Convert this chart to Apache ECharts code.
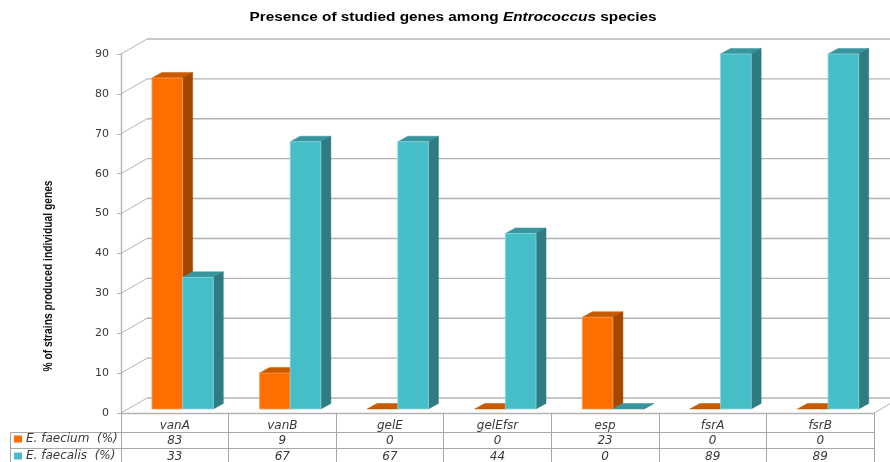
<!DOCTYPE html>
<html>
<head>
<meta charset="utf-8">
<title>Presence of studied genes among Entrococcus species</title>
<script src="https://cdn.jsdelivr.net/npm/echarts@6/dist/echarts.min.js"></script>
<style>html,body{margin:0;padding:0;background:#fff}#chart{width:890px;height:462px}</style>
</head>
<body>
<div id="chart"></div>
<script>
// Gene presence per species (% of strains)
const genes = ['vanA', 'vanB', 'gelE', 'gelEfsr', 'esp', 'fsrA', 'fsrB'];
const faecium = [83, 9, 0, 0, 23, 0, 0];
const faecalis = [33, 67, 67, 44, 0, 89, 89];
const yTicks = [0, 10, 20, 30, 40, 50, 60, 70, 80, 90];
const faeciumName = 'E. faecium  (%)';
const faecalisName = 'E. faecalis  (%)';
const yAxisTitle = '% of strains produced individual genes';

const palette = {
  orange: { front: '#ff6f00', edge: '#ff9a50', top: '#c85a00', side: '#a34800' },
  teal: { front: '#45bec8', edge: '#86d8de', top: '#38959d', side: '#2e7b81' }
};
const gridColor = '#b4b4b4';
const tableColor = '#a8a8a8';
const textColor = '#3a3a3a';

// Depth of the back wall and of the bars, in pixels
const wallDx = 26, wallDy = 15;
const barDx = 10, barDy = 5.5, barLift = 4;
const wideFont = '"DejaVu Sans", sans-serif';
const headFont = '"Liberation Sans", Arial, sans-serif';

// Box drawn in pseudo-3D: top and side faces behind the front face
function renderBar(colors, startFraction) {
  return function (params, api) {
    const idx = api.value(0);
    const center = api.coord([idx, 0])[0];
    const band = api.size([1, 0])[0];
    const base = api.coord([idx, 0])[1] - barLift;
    const top = api.coord([idx, api.value(1)])[1] - barLift;
    const w = band * 0.285;
    const l = center + band * startFraction;
    const r = l + w;
    const poly = (points, fill) => ({
      type: 'polygon',
      shape: { points },
      style: { fill, stroke: fill, lineWidth: 0.5 }
    });
    return {
      type: 'group',
      children: [
        poly([[l, top], [r, top], [r + barDx, top - barDy], [l + barDx, top - barDy]], colors.top),
        poly([[r, top], [r + barDx, top - barDy], [r + barDx, base - barDy], [r, base]], colors.side),
        {
          type: 'rect',
          shape: { x: l, y: top, width: w, height: base - top },
          style: { fill: colors.front, stroke: api.value(1) > 0 ? colors.edge : 'none', lineWidth: 0.8 }
        }
      ]
    };
  };
}

// Back wall gridlines and the slanted floor/side rules
function renderWall(params, api) {
  const cs = params.coordSys;
  const val = api.value(1);
  const y = api.coord([0, val])[1];
  const x0 = cs.x, x1 = cs.x + cs.width;
  const line = (a, b, c, d, width) => ({
    type: 'line',
    shape: { x1: a, y1: b, x2: c, y2: d },
    style: { stroke: gridColor, lineWidth: width }
  });
  const children = [
    line(x0, y, x0 + wallDx, y - wallDy, 1),
    line(x0 + wallDx, y - wallDy, x1 + wallDx, y - wallDy, 1.4)
  ];
  if (val === 0) {
    children.push(line(x1, y, x1 + wallDx, y - wallDy, 1));
  }
  return { type: 'group', children };
}

// Data table under the plot: one column of values per gene
function renderTableColumn(params, api) {
  const cs = params.coordSys;
  const x = api.coord([api.value(0), 0])[0];
  const bottom = cs.y + cs.height;
  const cell = (dy, value) => ({
    type: 'text',
    style: {
      x, y: bottom + dy, text: String(value), align: 'center', verticalAlign: 'middle',
      font: 'italic 12px ' + wideFont, fill: textColor
    }
  });
  return { type: 'group', children: [cell(28, api.value(1)), cell(44, api.value(2))] };
}

// Horizontal table rules and the left edge of the legend cells
function renderTableRules(params) {
  const cs = params.coordSys;
  const bottom = cs.y + cs.height;
  const x1 = cs.x + cs.width + 1;
  const rule = (a, b, c, d) => ({
    type: 'line',
    shape: { x1: a, y1: b, x2: c, y2: d },
    style: { stroke: tableColor, lineWidth: 1 }
  });
  return {
    type: 'group',
    children: [
      rule(10.5, bottom + 19.5, x1, bottom + 19.5),
      rule(10.5, bottom + 35.5, x1, bottom + 35.5),
      rule(10.5, bottom + 19.5, 10.5, bottom + 49)
    ]
  };
}

const chart = echarts.init(document.getElementById('chart'), null, { renderer: 'canvas' });
chart.setOption({
  animation: false,
  backgroundColor: '#fff',
  graphic: [
    {
      // Chart heading, set wide
      type: 'text',
      x: 453,
      y: 18,
      scaleX: 1.28,
      style: {
        text: '{a|Presence of studied genes among }{b|Entrococcus}{a| species}',
        align: 'center',
        verticalAlign: 'middle',
        rich: {
          a: { fontFamily: headFont, fontWeight: 'bold', fontSize: 12, fill: '#000' },
          b: { fontFamily: headFont, fontWeight: 'bold', fontStyle: 'italic', fontSize: 12, fill: '#000' }
        }
      }
    },
    {
      // Value axis title, set condensed along its length
      type: 'text',
      x: 48,
      y: 276,
      rotation: Math.PI / 2,
      scaleX: 0.79,
      style: {
        text: yAxisTitle,
        align: 'center',
        verticalAlign: 'middle',
        font: 'bold 13px ' + headFont,
        fill: '#111'
      }
    }
  ],
  legend: {
    left: 14,
    top: 432,
    height: 60,
    orient: 'vertical',
    itemWidth: 8,
    itemHeight: 7,
    itemGap: 3,
    icon: 'rect',
    selectedMode: false,
    padding: 0,
    data: [faeciumName, faecalisName],
    textStyle: { fontFamily: wideFont, fontStyle: 'italic', fontSize: 12, color: textColor, padding: [0, 0, 0, -1], lineHeight: 14 }
  },
  grid: { left: 121, right: 16, top: 54, bottom: 49 },
  xAxis: {
    type: 'category',
    data: genes,
    axisLine: { show: true, lineStyle: { color: gridColor, width: 1.4 } },
    axisTick: { show: true, length: 49, lineStyle: { color: tableColor, width: 1 } },
    axisLabel: {
      margin: 7,
      fontFamily: wideFont,
      fontStyle: 'italic',
      fontSize: 12,
      color: textColor
    }
  },
  yAxis: {
    type: 'value',
    min: 0,
    max: 90,
    interval: 10,
    splitLine: { show: false },
    axisLine: { show: true, lineStyle: { color: gridColor, width: 1.4 } },
    axisTick: { show: true, length: 4, lineStyle: { color: gridColor } },
    axisLabel: { margin: 12, fontFamily: wideFont, fontSize: 11, color: textColor }
  },
  series: [
    {
      type: 'custom',
      name: 'wall',
      z: 1,
      silent: true,
      renderItem: renderWall,
      data: yTicks.map(v => [0, v])
    },
    {
      type: 'custom',
      name: 'rules',
      z: 1,
      silent: true,
      renderItem: renderTableRules,
      data: [[0, 0]]
    },
    {
      type: 'custom',
      name: faeciumName,
      z: 3,
      itemStyle: { color: palette.orange.front },
      renderItem: renderBar(palette.orange, -0.212),
      data: faecium.map((v, i) => [i, v])
    },
    {
      type: 'custom',
      name: faecalisName,
      z: 4,
      itemStyle: { color: palette.teal.front },
      renderItem: renderBar(palette.teal, 0.073),
      data: faecalis.map((v, i) => [i, v])
    },
    {
      type: 'custom',
      name: 'table',
      z: 5,
      silent: true,
      renderItem: renderTableColumn,
      data: genes.map((g, i) => [i, faecium[i], faecalis[i]])
    }
  ]
});
</script>
</body>
</html>
